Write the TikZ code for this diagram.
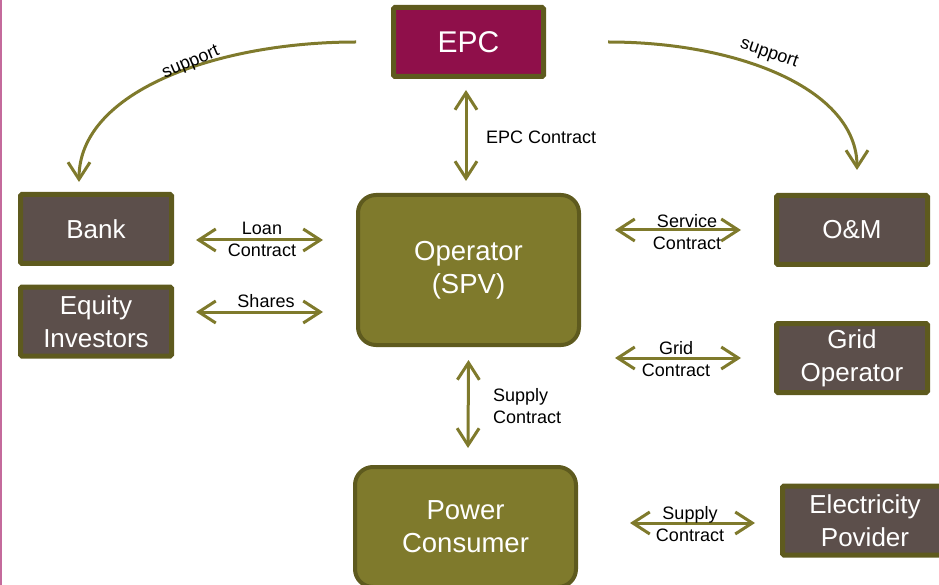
\documentclass[tikz,border=0pt]{standalone}
\usepackage{fontspec}
\setmainfont{Liberation Sans}
\usetikzlibrary{arrows.meta}
\definecolor{olivebd}{HTML}{5E5A1E}
\definecolor{olivefill}{HTML}{7F7A2C}
\definecolor{epcfill}{HTML}{8F0F4A}
\definecolor{darkbox}{HTML}{5C4F4B}
\definecolor{pinkline}{HTML}{C46A9C}
\begin{document}
\begin{tikzpicture}[x=1pt,y=-1pt,
  box/.style={draw=olivebd, line width=5pt, fill=darkbox, text=white,
    minimum width=151pt, minimum height=69pt, align=center, inner sep=0pt,
    rounded corners=1.5pt, font=\fontsize{26}{33}\selectfont},
  opbox/.style={draw=olivebd, line width=4pt, fill=olivefill, text=white,
    minimum width=221pt, align=center, inner sep=0pt,
    rounded corners=18pt, font=\fontsize{27.5}{33}\selectfont},
  barb/.tip={Straight Barb[length=17pt,width=22pt]},
  arr/.style={draw=olivefill, line width=3pt, barb-barb},
  sarr/.style={draw=olivefill, line width=3pt, -barb},
  lbl/.style={font=\fontsize{18}{22}\selectfont, align=center, inner sep=0pt, text=black}]
\useasboundingbox (0,0) rectangle (939,585);
\fill[pinkline] (0,0) rectangle (1.5,585);

% boxes
\node[box, fill=epcfill, minimum width=150pt, font=\fontsize{30}{34}\selectfont] (epc) at (468.5,42) {EPC};
\node[box] (bank) at (96,229) {Bank};
\node[box] (eq) at (96,321.5) {Equity\\Investors};
\node[box] (om) at (852,230) {O\&M};
\node[box] (go) at (852,358) {Grid\\Operator};
\node[box, minimum width=165pt] (ep) at (865,520.5) {Electricity\\Povider};
\node[opbox, minimum height=150pt] (op) at (468.5,270) {\rule{0pt}{0pt}\raisebox{-2pt}{Operator}\\\raisebox{-2pt}{(SPV)}};
\node[opbox, minimum height=120pt] (pc) at (465.5,527) {Power\\Consumer};

% straight connectors
\draw[arr] ([xshift=-2.5pt,yshift=-11pt]epc.south) -- ([xshift=-2.5pt,yshift=12pt]op.north);
\draw[arr] ([xshift=22pt,yshift=-11pt]bank.east) -- ([xshift=-33pt,yshift=30pt]op.west);
\draw[arr] ([xshift=22pt,yshift=9.5pt]eq.east) -- ([xshift=-33pt,yshift=-42pt]op.west);
\draw[arr] ([xshift=34pt,yshift=40pt]op.east) -- ([xshift=-33pt]om.west);
\draw[arr] ([xshift=-159pt]go.west) -- ([xshift=-33pt]go.west);
\draw[arr] ([yshift=-13pt]op.south) -- ([xshift=2.5pt,yshift=17pt]pc.north);
\draw[arr] ([xshift=52pt,yshift=4pt]pc.east) -- ([xshift=-25pt,yshift=-2.5pt]ep.west);

% support curves
\draw[sarr] ([xshift=-35pt]epc.west) .. controls (220,42) and (79,90) .. ([xshift=-17pt,yshift=10pt]bank.north);
\draw[sarr] ([xshift=62pt]epc.east) .. controls (740,42) and (857,90) .. ([xshift=5pt,yshift=23pt]om.north);

% labels
\node[lbl, rotate=23] (sl) at (191,63) {support};
\node[lbl, rotate=-19] (sr) at (769,54) {support};
\node[lbl, anchor=west] (lepc) at (486,137) {EPC Contract};
\node[lbl] (lloan) at (262,239) {Loan\\Contract};
\node[lbl] (lsh) at (266,301) {Shares};
\node[lbl] (lsv) at (687,232) {Service\\Contract};
\node[lbl] (lgr) at (676,359) {Grid\\Contract};
\node[lbl, anchor=west, align=left] (lsup) at (493,406) {Supply\\Contract};
\node[lbl] (lsup2) at (690,524) {Supply\\Contract};
\end{tikzpicture}
\end{document}
